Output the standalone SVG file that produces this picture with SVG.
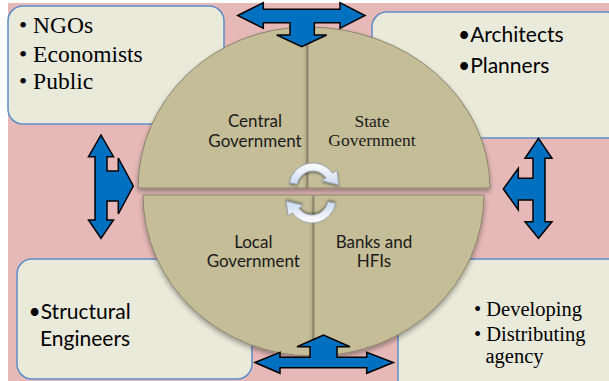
<svg xmlns="http://www.w3.org/2000/svg" width="609" height="381" viewBox="0 0 609 381">
<style>
.box{fill:#EAEADB;stroke:#5E8DC8;stroke-width:1.5}
.quad{fill:#C4BD97;stroke:#8A846C;stroke-width:1}
.blk{fill:#0070C0;stroke:#000;stroke-width:1.5;stroke-linejoin:miter}
.cyc{fill:url(#cg);stroke:#8D99A8;stroke-width:0.8}
.ql{text-anchor:middle}
</style>
<defs>
<filter id="sh" x="-10%" y="-10%" width="120%" height="130%">
<feDropShadow dx="0" dy="3" stdDeviation="2.5" flood-color="#000" flood-opacity="0.35"/>
</filter>
<filter id="sh2" x="-20%" y="-20%" width="140%" height="140%">
<feDropShadow dx="0" dy="1.5" stdDeviation="1" flood-color="#000" flood-opacity="0.4"/>
</filter>
<linearGradient id="cg" x1="0" y1="0" x2="0" y2="1">
<stop offset="0" stop-color="#FFFFFF"/>
<stop offset="1" stop-color="#C9D8EE"/>
</linearGradient>
<path id="carr" d="M289.4,182.8 A24,24 0 0 1 332.7,173.2 L336.8,170.4 L339,185 L322,180.7 L326.1,177.8 A16,16 0 0 0 297.2,184.2 Z"/>
</defs>
<rect x="8" y="3" width="601" height="378" fill="#E6B9B8"/>

<g id="box-ngos" font-family="'Liberation Serif','Times New Roman',serif" font-size="23.5" fill="#000">
<rect class="box" x="8" y="6" width="216" height="118" rx="15"/>
<text x="19" y="33" xml:space="preserve">• NGOs</text>
<text x="19" y="61.5" xml:space="preserve">• Economists</text>
<text x="19" y="89" xml:space="preserve">• Public</text>
</g>
<g id="box-architects" font-family="Lato,'Liberation Sans',sans-serif" font-size="21" fill="#000">
<rect class="box" x="372" y="12" width="250" height="126" rx="15"/>
<text x="458" y="41.7">•Architects</text>
<text x="458" y="72.7">•Planners</text>
</g>
<g id="box-structural" font-family="Lato,'Liberation Sans',sans-serif" font-size="21" fill="#000">
<rect class="box" x="17" y="259" width="235" height="120" rx="15"/>
<text x="28.5" y="319.3">•Structural</text>
<text x="40" y="345.5">Engineers</text>
</g>
<g id="box-developing" font-family="'Liberation Serif','Times New Roman',serif" font-size="20.5" fill="#000">
<rect class="box" x="398" y="259" width="230" height="140" rx="15"/>
<text x="474" y="316" xml:space="preserve">• Developing</text>
<text x="474" y="340.5" xml:space="preserve">• Distributing</text>
<text x="485.5" y="363.3">agency</text>
</g>

<g id="q-central" font-family="Lato,'Liberation Sans',sans-serif" font-size="17" fill="#1a1a1a">
<path class="quad" filter="url(#sh)" d="M307,188 L138,188 A169,161 0 0 1 307,27 Z"/>
<text class="ql" x="255" y="126.5">Central</text>
<text class="ql" x="255" y="146.5">Government</text>
</g>
<g id="q-state" font-family="'Liberation Serif','Times New Roman',serif" font-size="17.5" fill="#1a1a1a">
<path class="quad" filter="url(#sh)" d="M308,188 L308,27 A182,161 0 0 1 490,188 Z"/>
<text class="ql" x="372" y="126.7">State</text>
<text class="ql" x="372" y="145.7">Government</text>
</g>
<g id="q-local" font-family="Lato,'Liberation Sans',sans-serif" font-size="17" fill="#1a1a1a">
<path class="quad" filter="url(#sh)" d="M313,195 L313,356 A170,161 0 0 1 143,195 Z"/>
<text class="ql" x="253.3" y="248.3">Local</text>
<text class="ql" x="253.3" y="267.3">Government</text>
</g>
<g id="q-banks" font-family="Lato,'Liberation Sans',sans-serif" font-size="17" fill="#1a1a1a">
<path class="quad" filter="url(#sh)" d="M314,195 L484,195 A170,161 0 0 1 314,356 Z"/>
<text class="ql" x="374" y="248.3">Banks and</text>
<text class="ql" x="374" y="267.3">HFIs</text>
</g>

<g id="connectors">
<use href="#carr" class="cyc" filter="url(#sh2)"/>
<use href="#carr" class="cyc" filter="url(#sh2)" transform="rotate(180 312.5 193)"/>
<path class="blk" d="M237.7,15.5 L263.3,2.7 L263.3,9.3 L340,9.3 L340,2.7 L365,15.5 L340,28.3 L340,22.7 L314.3,22.7 L314.3,35 L326.7,35 L301.7,46.7 L276.7,35 L290,35 L290,22.7 L263.3,22.7 L263.3,28.3 Z"/>
<path class="blk" d="M101,135 L113.5,156.7 L107,156.7 L107,171 L118.3,171 L118.3,158 L133.3,186 L118.3,214 L118.3,201 L107,201 L107,220 L113.5,220 L101,238.3 L88.5,220 L95,220 L95,156.7 L88.5,156.7 Z"/>
<path class="blk" d="M538.5,138.3 L552,158.3 L545,158.3 L545,221.7 L552,221.7 L538.5,238.3 L525,221.7 L533,221.7 L533,200 L518.3,200 L518.3,210 L503.3,189 L518.3,168.3 L518.3,178.3 L533,178.3 L533,158.3 L525,158.3 Z"/>
<path class="blk" d="M255,362.5 L280,352.3 L280,357.3 L310,357.3 L310,346.7 L297,346.7 L323.5,335 L350,346.7 L337,346.7 L337,357.3 L366.7,357.3 L366.7,352.3 L393.3,362.5 L366.7,373.3 L366.7,367.7 L280,367.7 L280,373.3 Z"/>
</g>
</svg>
